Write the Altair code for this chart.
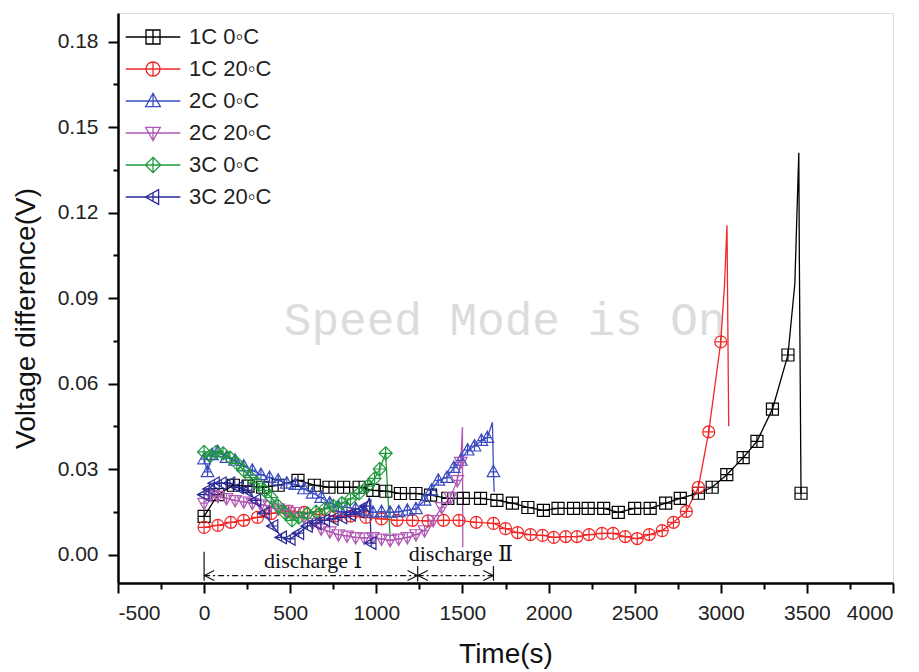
import altair as alt
import pandas as pd

# ---------------- data ----------------
series = ["1C 0◦C", "1C 20◦C", "2C 0◦C", "2C 20◦C", "3C 0◦C", "3C 20◦C"]
colors = ["#000000", "#f02828", "#3a4cc0", "#b058b4", "#1e9a3c", "#2a2a98"]

t_1c0 = [0, 80, 170, 255, 340, 430, 545, 640, 725, 810, 900, 980, 1055, 1140, 1230, 1315, 1415, 1505,
         1605, 1700, 1790, 1880, 1970, 2055, 2145, 2230, 2320, 2405, 2500, 2590, 2680, 2765, 2870, 2950,
         3035, 3130, 3210, 3300, 3390, 3430, 3453, 3456, 3466]
v_1c0 = [0.0134, 0.021, 0.0243, 0.024, 0.0236, 0.0243, 0.026, 0.0243, 0.0236, 0.0236, 0.0236, 0.0225,
         0.0222, 0.0214, 0.0214, 0.0208, 0.0197, 0.0197, 0.0197, 0.019, 0.018, 0.0165, 0.0155, 0.0162,
         0.0162, 0.0162, 0.0162, 0.0148, 0.0162, 0.0162, 0.018, 0.0197, 0.0215, 0.0236, 0.028, 0.034,
         0.0397, 0.051, 0.070, 0.095, 0.141, 0.106, 0.0215]

t_1c20 = [0, 80, 155, 230, 310, 390, 490, 580, 670, 760, 850, 940, 1030, 1120, 1210, 1300, 1390, 1480,
          1580, 1680, 1750, 1820, 1895, 1965, 2030, 2100, 2165, 2235, 2310, 2375, 2445, 2515, 2585, 2660,
          2725, 2800, 2870, 2930, 3000, 3022, 3036, 3046]
v_1c20 = [0.0095, 0.0102, 0.0113, 0.012, 0.013, 0.0144, 0.0152, 0.0148, 0.014, 0.0135, 0.0135, 0.013,
          0.0125, 0.012, 0.012, 0.0118, 0.012, 0.012, 0.0113, 0.0109, 0.0091, 0.0077, 0.007, 0.0067,
          0.006, 0.0063, 0.0063, 0.007, 0.0074, 0.0074, 0.0063, 0.0056, 0.007, 0.0084, 0.0113, 0.0151,
          0.0236, 0.043, 0.0746, 0.095, 0.1155, 0.045]

t_2c0 = [0, 20, 45, 80, 130, 180, 230, 280, 330, 380, 430, 480, 530, 580, 630, 680, 730, 780, 830, 880,
         930, 980, 1030, 1080, 1130, 1180, 1230, 1280, 1320, 1360, 1410, 1450, 1490, 1530, 1570, 1610,
         1645, 1674, 1680, 1684]
v_2c0 = [0.0335, 0.029, 0.035, 0.036, 0.034, 0.033, 0.031, 0.0295, 0.028, 0.027, 0.026, 0.025, 0.0245,
         0.023, 0.0215, 0.02, 0.018, 0.0168, 0.0165, 0.016, 0.0155, 0.0148, 0.015, 0.0148, 0.015, 0.0155,
         0.016, 0.019, 0.0225, 0.026, 0.027, 0.0305, 0.033, 0.0366, 0.038, 0.040, 0.041, 0.0464, 0.029,
         0.022]

t_2c20 = [0, 40, 80, 130, 180, 230, 280, 330, 380, 430, 480, 530, 580, 630, 680, 730, 780, 830, 880,
          930, 980, 1030, 1080, 1130, 1180, 1230, 1280, 1330, 1380, 1430, 1470, 1490, 1500, 1502]
v_2c20 = [0.018, 0.0208, 0.0205, 0.0197, 0.019, 0.0185, 0.018, 0.0175, 0.017, 0.016, 0.0155, 0.0148,
          0.013, 0.011, 0.009, 0.008, 0.007, 0.0065, 0.006, 0.0058, 0.006, 0.0055, 0.005, 0.0055, 0.006,
          0.007, 0.0084, 0.012, 0.0165, 0.020, 0.026, 0.0324, 0.0447, 0.0025]

t_3c0 = [0, 35, 70, 110, 150, 190, 230, 270, 310, 350, 390, 430, 470, 510, 550, 600, 650, 700, 750,
         800, 850, 900, 950, 990, 1020, 1054, 1080]
v_3c0 = [0.036, 0.0345, 0.036, 0.0355, 0.034, 0.032, 0.0295, 0.027, 0.025, 0.0225, 0.020, 0.017,
         0.0145, 0.012, 0.013, 0.0144, 0.015, 0.016, 0.017, 0.018, 0.0195, 0.0215, 0.024, 0.0267, 0.030,
         0.0355, 0.006]

t_3c20 = [0, 30, 60, 100, 150, 200, 250, 300, 350, 400, 450, 500, 550, 600, 650, 700, 750, 800, 850,
          900, 940, 960, 970]
v_3c20 = [0.021, 0.023, 0.025, 0.025, 0.025, 0.0235, 0.0225, 0.019, 0.0145, 0.010, 0.006, 0.0055,
          0.0075, 0.010, 0.011, 0.012, 0.0125, 0.013, 0.014, 0.015, 0.017, 0.020, 0.004]

# points drawn as line only (no marker)
line_only = {
    "1C 0◦C": [3430, 3453, 3456],
    "1C 20◦C": [3022, 3036, 3046],
    "2C 0◦C": [1674, 1684],
    "2C 20◦C": [1500, 1502],
    "3C 0◦C": [1080],
    "3C 20◦C": [960],
}

# annotations
ann_text = ["discharge Ⅰ", "discharge Ⅱ"]
ann_tx = [348, 1188]
ann_ty = [-0.0049, -0.0022]
arrow_x = [0, 1240]
arrow_x2 = [1240, 1680]
arrow_y = -0.0074
bar_x = [0, 1240, 1680]
bar_y = [0.001, -0.004, -0.004]
bar_y2 = [-0.0092, -0.0095, -0.0092]
head_left_x = [30, 1270]
head_right_x = [1210, 1650]
watermark = "Speed Mode is On"
wm_x, wm_y = 463, 0.077

x_ticks = list(range(-500, 4001, 250))
y_ticks = [round(i * 0.015, 3) for i in range(13)]

# ---------------- build table ----------------
marker_keys = ["mk%d" % k for k in range(len(series))]   # separate keys for the marker shape scale
all_t = [t_1c0, t_1c20, t_2c0, t_2c20, t_3c0, t_3c20]
all_v = [v_1c0, v_1c20, v_2c0, v_2c20, v_3c0, v_3c20]
rows = []
for name, key, ts, vs in zip(series, marker_keys, all_t, all_v):
    for i, (t, v) in enumerate(zip(ts, vs)):
        rows.append({"series": name, "sym": key, "t": t, "v": v, "i": i,
                     "m": t not in line_only[name]})
df = pd.DataFrame(rows)

shape_paths = [
    "M-1,-1H1V1H-1Z M-1,0H1 M0,-1V1",
    "M-1,0A1,1,0,1,1,1,0A1,1,0,1,1,-1,0Z M-1,0H1 M0,-1V1",
    "M0,-1.1L1.05,0.8H-1.05Z M-0.55,0H0.55 M0,-1.1V0.8",
    "M0,1.1L1.05,-0.8H-1.05Z M-0.55,0H0.55 M0,1.1V-0.8",
    "M0,-1.1L1.1,0L0,1.1L-1.1,0Z M-1.1,0H1.1 M0,-1.1V1.1",
    "M-1.1,0L0.8,-1.05V1.05Z M0,-0.55V0.55 M-1.1,0H0.8",
]
# legend symbols: the marker with a horizontal line through it
legend_paths = ["M-3.9,0L3.9,0 " + p for p in shape_paths]

FONT = "Liberation Sans"
SERIF = "Liberation Serif, DejaVu Serif, Noto Serif, serif"
x_scale = alt.Scale(domain=[-500, 4000], nice=False, zero=False)
y_scale = alt.Scale(domain=[-0.01, 0.19], nice=False, zero=False)

x_axis = alt.Axis(
    values=x_ticks, grid=False, title="Time(s)",
    labelExpr="datum.value % 500 === 0 ? '' + datum.value : ''",
    tickSize={"condition": {"test": "datum.value % 500 === 0", "value": 10}, "value": 6},
    tickWidth=2, tickColor="black", domainColor="black", domainWidth=2.5,
    labelFont=FONT, labelFontSize=21, labelColor="#222", labelPadding=9,
    titleFont=FONT, titleFontSize=28, titleFontWeight="normal", titleColor="#111", titlePadding=17,
)
y_axis = alt.Axis(
    values=y_ticks, grid=False, title="Voltage difference(V)",
    labelExpr="round(datum.value * 1000) % 30 === 0 ? format(datum.value, '.2f') : ''",
    tickSize={"condition": {"test": "round(datum.value * 1000) % 30 === 0", "value": 10}, "value": 5},
    tickWidth=2, tickColor="black", domainColor="black", domainWidth=2.5,
    labelFont=FONT, labelFontSize=21, labelColor="#222", labelPadding=10,
    titleFont=FONT, titleFontSize=28, titleFontWeight="normal", titleColor="#111", titlePadding=17,
    titleY=305,
)

q = lambda lst: "[" + ",".join("'" + s + "'" for s in lst) + "]"
legend_expr = f"{q(legend_paths)}[indexof({q(series)}, datum.value)]"

legend = alt.Legend(
    title=None, orient="none", legendX=24, legendY=13, padding=0,
    labelFont=FONT, labelFontSize=22, labelColor="#222", labelOffset=25,
    symbolSize=196, symbolStrokeWidth=1.3, rowPadding=10,
    symbolType={"expr": legend_expr},
)

color_enc = alt.Color("series:N", scale=alt.Scale(domain=series, range=colors), legend=legend)
shape_enc = alt.Shape("sym:N", scale=alt.Scale(domain=marker_keys, range=shape_paths), legend=None)

base = alt.Chart(df)
lines = base.mark_line(strokeWidth=1.3).encode(
    x=alt.X("t:Q", scale=x_scale, axis=x_axis),
    y=alt.Y("v:Q", scale=y_scale, axis=y_axis),
    color=color_enc,
    order=alt.Order("i:Q"),
)
points = base.transform_filter("datum.m").mark_point(filled=False, size=144, strokeWidth=1.2, opacity=1).encode(
    x="t:Q", y="v:Q", color=color_enc, shape=shape_enc,
)

# watermark
wm = alt.Chart(pd.DataFrame({"x": [wm_x], "y": [wm_y], "s": [watermark]})).mark_text(
    font="Liberation Mono", fontSize=46, color="#dcdce0", align="left", baseline="alphabetic"
).encode(x="x:Q", y="y:Q", text="s:N")

# annotations
ann = alt.Chart(pd.DataFrame({"x": ann_tx, "y": ann_ty, "s": ann_text})).mark_text(
    font=SERIF, fontSize=22, color="#111", align="left", baseline="alphabetic"
).encode(x="x:Q", y="y:Q", text="s:N")

arr = alt.Chart(pd.DataFrame({"x": arrow_x, "x2": arrow_x2, "y": [arrow_y] * len(arrow_x)})).mark_rule(
    color="#111", strokeWidth=1.1, strokeDash=[6, 3, 2, 3]
).encode(x="x:Q", x2="x2:Q", y="y:Q")

bars = alt.Chart(pd.DataFrame({"x": bar_x, "y": bar_y, "y2": bar_y2})).mark_rule(
    color="#111", strokeWidth=1.2
).encode(x="x:Q", y="y:Q", y2="y2:Q")

heads_l = alt.Chart(pd.DataFrame({"x": head_left_x, "y": [arrow_y] * len(head_left_x)})).mark_point(
    filled=False, size=100, strokeWidth=1.1, color="#111", opacity=1, shape="M1,-1L-1,0L1,1"
).encode(x="x:Q", y="y:Q")
heads_r = alt.Chart(pd.DataFrame({"x": head_right_x, "y": [arrow_y] * len(head_right_x)})).mark_point(
    filled=False, size=100, strokeWidth=1.1, color="#111", opacity=1, shape="M-1,-1L1,0L-1,1"
).encode(x="x:Q", y="y:Q")

chart = alt.layer(wm, lines, points, arr, bars, heads_l, heads_r, ann).properties(
    width=775, height=570,
    autosize=alt.AutoSizeParams(type="none"),
    padding={"left": 118, "top": 13, "right": 26, "bottom": 89},
).configure_view(stroke="black", strokeWidth=2.5).configure(background="white")

chart.save("out.html", embed_options={"renderer": "svg", "actions": False})
